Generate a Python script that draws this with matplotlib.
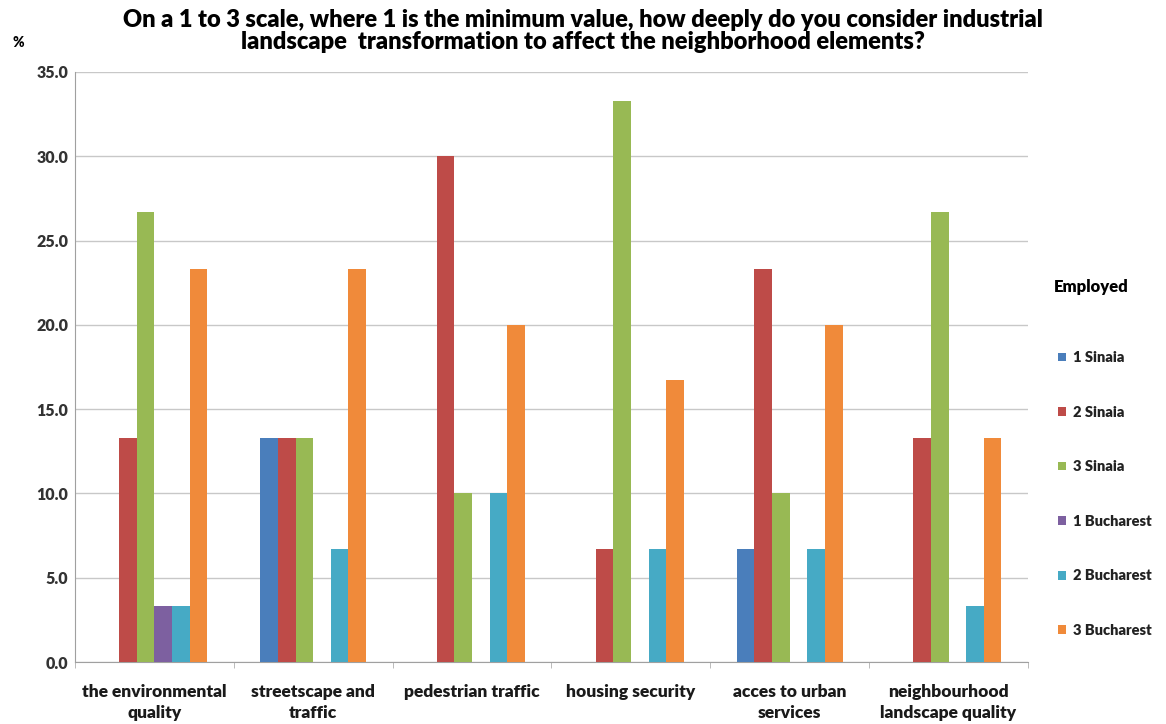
import numpy as np
import matplotlib.pyplot as plt

plt.rcParams['font.family'] = ['Lato', 'DejaVu Sans']

categories = ["the environmental\nquality", "streetscape and\ntraffic", "pedestrian traffic",
              "housing security", "acces to urban\nservices", "neighbourhood\nlandscape quality"]
series = ["1 Sinaia", "2 Sinaia", "3 Sinaia", "1 Bucharest", "2 Bucharest", "3 Bucharest"]
sinaia_1 = [0.0, 13.3, 0.0, 0.0, 6.7, 0.0]
sinaia_2 = [13.3, 13.3, 30.0, 6.7, 23.3, 13.3]
sinaia_3 = [26.7, 13.3, 10.0, 33.3, 10.0, 26.7]
bucharest_1 = [3.3, 0.0, 0.0, 0.0, 0.0, 0.0]
bucharest_2 = [3.3, 6.7, 10.0, 6.7, 6.7, 3.3]
bucharest_3 = [23.3, 23.3, 20.0, 16.7, 20.0, 13.3]
colors = ["#4A7EBB", "#BE4B48", "#98B954", "#7D60A0", "#46AAC5", "#F08A3A"]

values = [sinaia_1, sinaia_2, sinaia_3, bucharest_1, bucharest_2, bucharest_3]

fig = plt.figure(figsize=(11.66, 7.24), dpi=100)
ax = fig.add_axes([0.0643, 0.0856, 0.8173, 0.815])

x = np.arange(len(categories))
w = 0.111
for i, (name, vals) in enumerate(zip(series, values)):
    ax.bar(x + (i - 2.5) * w, vals, w, color=colors[i], label=name, zorder=3)

ax.set_xlim(-0.5, len(categories) - 0.5)
ax.set_ylim(0, 35)
ax.set_yticks(np.arange(0, 35.1, 5))
ax.set_yticklabels([f"{v:.1f}" for v in np.arange(0, 35.1, 5)],
                   fontsize=11.5, fontweight='heavy', color='#333333')
ax.yaxis.grid(True, color='#c8c8c8', linewidth=1, zorder=0)
ax.tick_params(axis='y', length=0, pad=5)

ax.set_xticks(x)
ax.set_xticklabels(categories, fontsize=12.5, fontweight='heavy', color='#1a1a1a', linespacing=1.4)
ax.set_xticks(np.arange(-0.5, len(categories)), minor=True)
ax.tick_params(axis='x', which='major', length=0, pad=16)
ax.tick_params(axis='x', which='minor', length=4, color='#b0b0b0')

for side in ['top', 'right']:
    ax.spines[side].set_visible(False)
ax.spines['left'].set_color('#a0a0a0')
ax.spines['bottom'].set_color('#a0a0a0')

fig.text(0.5, 0.988, "On a 1 to 3 scale, where 1 is the minimum value, how deeply do you consider industrial\n"
         "landscape  transformation to affect the neighborhood elements?",
         ha='center', va='top', fontsize=17, fontweight='heavy', linespacing=1.0)
fig.text(0.011, 0.935, "%", fontsize=10, fontweight='heavy')

# legend entries with the group title placed separately above them
leg = ax.legend(loc='center left', bbox_to_anchor=(0.9074, 0.3177), bbox_transform=fig.transFigure,
                frameon=False, fontsize=10.5, labelspacing=2.85, handlelength=0.55,
                handleheight=0.55, handletextpad=0.45, borderpad=0, borderaxespad=0)
for t in leg.get_texts():
    t.set_fontweight('heavy')
    t.set_color('#222222')
fig.text(0.904, 0.6036, "Employed", fontsize=12, fontweight='heavy', va='center', ha='left')

fig.savefig("out.png", dpi=100)
